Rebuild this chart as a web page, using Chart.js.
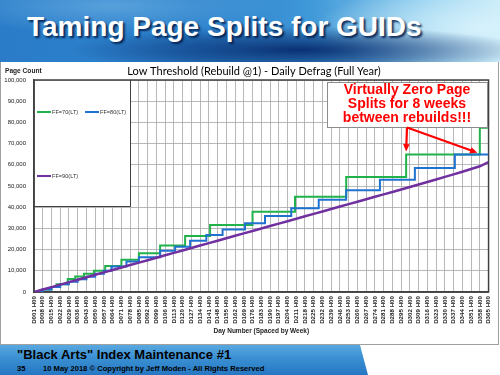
<!DOCTYPE html>
<html>
<head>
<meta charset="utf-8">
<title>Taming Page Splits for GUIDs</title>
<script src="https://cdn.jsdelivr.net/npm/chart.js@4.4.0/dist/chart.umd.min.js"></script>
<style>
    html, body { margin: 0; padding: 0; background: #fff; }
    body { width: 500px; height: 375px; position: relative; overflow: hidden; font-family: 'Liberation Sans', Arial, sans-serif; }
    .banner {
        position: absolute; left: 0; top: 0; width: 500px; height: 62px;
        background:
            radial-gradient(ellipse 230px 24px at 300px 50px, rgba(4,38,105,0.9) 0%, rgba(4,38,105,0.45) 55%, rgba(4,38,105,0) 100%),
            radial-gradient(ellipse 170px 45px at 485px 28px, rgba(215,242,252,0.95) 0%, rgba(215,242,252,0) 100%),
            radial-gradient(ellipse 170px 28px at 110px 6px, rgba(140,200,240,0.45) 0%, rgba(140,200,240,0) 100%),
            linear-gradient(90deg, #2a7cc8 0%, #2d82cc 40%, #3f98d8 62%, #8fcdee 85%, #c6e9f7 100%);
    }
    .banner h1 {
        position: absolute; left: 27px; top: 13px; margin: 0;
        font-size: 28px; line-height: 28px; font-weight: bold; color: #fff;
        text-shadow: 2px 2px 2px rgba(0, 25, 70, 0.85);
        white-space: nowrap;
    }
    .chart-box { position: absolute; left: 0; top: 62px; width: 500px; height: 283px; }
    .chart-box canvas { display: block; }
    .frame {
        position: absolute; left: 0; top: 62px; width: 497px; height: 282px;
        border: 1px solid #a0a0a0; border-top: none; pointer-events: none;
    }
    .footer {
        position: absolute; left: 0; top: 345px; width: 368px; height: 30px;
        background: linear-gradient(180deg, #58a8e0 0%, #3a8fd2 45%, #2577c2 100%);
        clip-path: polygon(0 0, 360px 0, 368px 30px, 0 30px);
    }
    .footer .line1 { position: absolute; left: 17px; top: 2px; font-size: 13px; font-weight: bold; color: #000; white-space: nowrap; }
    .footer .line2 { position: absolute; left: 17px; top: 19px; font-size: 7.6px; font-weight: bold; color: #000; white-space: nowrap; }
    .footer .line2 span { position: absolute; left: 26px; top: 0; }
</style>
</head>
<body>

<div class="banner"><h1>Taming Page Splits for GUIDs</h1></div>
<div class="chart-box"><canvas id="pageSplitChart" width="500" height="283"></canvas></div>
<div class="frame"></div>
<div class="footer">
    <div class="line1">"Black Arts" Index Maintenance #1</div>
    <div class="line2">35<span>10 May 2018 &copy; Copyright by Jeff Moden - All Rights Reserved</span></div>
</div>

<script>
// =====================================================
// Page count by day - FF=70 / FF=80 / FF=90, daily defrag
// =====================================================

// weekly ticks on the day axis
const tickDays = [1, 8, 15, 22, 29, 36, 43, 50, 57, 64, 71, 78, 85, 92, 99, 106, 113, 120,
    127, 134, 141, 148, 155, 162, 169, 176, 183, 190, 197, 204, 211, 218, 225, 232, 239, 246,
    253, 260, 267, 274, 281, 288, 295, 302, 309, 316, 323, 330, 337, 344, 351, 358, 365];
const tickLabels = ['D001 H00', 'D008 H00', 'D015 H00', 'D022 H00', 'D029 H00', 'D036 H00',
    'D043 H00', 'D050 H00', 'D057 H00', 'D064 H00', 'D071 H00', 'D078 H00', 'D085 H00',
    'D092 H00', 'D099 H00', 'D106 H00', 'D113 H00', 'D120 H00', 'D127 H00', 'D134 H00',
    'D141 H00', 'D148 H00', 'D155 H00', 'D162 H00', 'D169 H00', 'D176 H00', 'D183 H00',
    'D190 H00', 'D197 H00', 'D204 H00', 'D211 H00', 'D218 H00', 'D225 H00', 'D232 H00',
    'D239 H00', 'D246 H00', 'D253 H00', 'D260 H00', 'D267 H00', 'D274 H00', 'D281 H00',
    'D288 H00', 'D295 H00', 'D302 H00', 'D309 H00', 'D316 H00', 'D323 H00', 'D330 H00',
    'D337 H00', 'D344 H00', 'D351 H00', 'D358 H00', 'D365 H00'];

const yMax = 100000;
const yStep = 10000;

// FF=70 - day the page count jumps, and the count after the jump
const ff70Days  = [1, 8, 15, 19, 28, 34, 41, 49, 58, 71, 85, 102, 122, 142, 176, 210, 251, 299, 358, 365];
const ff70Pages = [0, 1200, 2400, 3700, 6100, 7300, 8600, 10000, 12300, 15200, 18300, 21900,
    26400, 31600, 37900, 44900, 54300, 64800, 77500, 77500];

// FF=80
const ff80Days  = [1, 8, 15, 22, 29, 36, 43, 50, 57, 63, 75, 85, 102, 114, 126, 139, 152, 170,
    186, 207, 229, 251, 278, 306, 338, 365];
const ff80Pages = [0, 1200, 2400, 3600, 4800, 6000, 7200, 8600, 10000, 12000, 14400, 16400,
    19500, 21400, 24200, 26900, 29500, 32400, 35800, 39500, 43500, 48000, 53000, 58500, 64800, 64800];

// FF=90 - read once a week (on tickDays)
const ff90Pages = [0, 1150, 2300, 3500, 4650, 5800, 6950, 8100, 9250, 10400, 11550, 12700,
    13850, 15000, 16150, 17300, 18450, 19600, 20750, 21900, 23050, 24200, 25350, 26500, 27650,
    28800, 29950, 31100, 32250, 33400, 34550, 35700, 36850, 38000, 39150, 40300, 41450, 42600,
    43750, 44900, 46050, 47200, 48350, 49500, 50700, 51900, 53100, 54300, 55500, 56750, 58000,
    59300, 61300];

const seriesNames = ['FF=70(LT)', 'FF=80(LT)', 'FF=90(LT)'];
const seriesColors = ['#22b24c', '#1f72cf', '#7030a0'];

const calloutLines = ['Virtually Zero Page', 'Splits for 8 weeks', 'between rebuilds!!!'];
const calloutTips = [{ day: 299, pages: 66300 }, { day: 356, pages: 65700 }];

function toPoints(days, pages) {
    return days.map((d, i) => ({ x: d, y: pages[i] }));
}

function drawArrow(ctx, x1, y1, x2, y2) {
    const ang = Math.atan2(y2 - y1, x2 - x1);
    const head = 8;
    ctx.beginPath();
    ctx.moveTo(x1, y1);
    ctx.lineTo(x2 - Math.cos(ang) * head * 0.8, y2 - Math.sin(ang) * head * 0.8);
    ctx.stroke();
    ctx.beginPath();
    ctx.moveTo(x2, y2);
    ctx.lineTo(x2 - head * Math.cos(ang - 0.42), y2 - head * Math.sin(ang - 0.42));
    ctx.lineTo(x2 - head * Math.cos(ang + 0.42), y2 - head * Math.sin(ang + 0.42));
    ctx.closePath();
    ctx.fill();
}

// plot frame, the in-plot legend box, title text and the red callout
const chartDecor = {
    id: 'chartDecor',
    beforeDatasetsDraw(chart) {
        const ctx = chart.ctx, a = chart.chartArea;
        ctx.save();
        ctx.strokeStyle = '#404040';
        ctx.lineWidth = 1.5;
        ctx.strokeRect(a.left, a.top, a.right - a.left, a.bottom - a.top);

        // legend box sits in the top-left corner of the plot
        const w = 96, h = 126;
        ctx.fillStyle = '#fff';
        ctx.fillRect(a.left + 1, a.top + 1, w - 1, h - 1);
        ctx.lineWidth = 1;
        ctx.beginPath();
        ctx.moveTo(a.left, a.top + h + 0.5);
        ctx.lineTo(a.left + w + 0.5, a.top + h + 0.5);
        ctx.lineTo(a.left + w + 0.5, a.top);
        ctx.stroke();

        const slots = [[3, 32], [51, 32], [3, 96]];
        ctx.font = '5.6px "Liberation Sans", Arial, sans-serif';
        ctx.textBaseline = 'middle';
        ctx.textAlign = 'left';
        chart.data.datasets.forEach((ds, i) => {
            const x = a.left + slots[i][0], y = a.top + slots[i][1];
            ctx.strokeStyle = ds.borderColor;
            ctx.lineWidth = 2;
            ctx.beginPath();
            ctx.moveTo(x, y);
            ctx.lineTo(x + 14, y);
            ctx.stroke();
            ctx.fillStyle = '#333';
            ctx.fillText(ds.label, x + 15, y);
        });
        ctx.restore();
    },
    afterDraw(chart) {
        const ctx = chart.ctx;
        ctx.save();
        ctx.fillStyle = '#000';
        ctx.textBaseline = 'middle';
        ctx.textAlign = 'center';
        ctx.font = '11px Lato, "Open Sans", sans-serif';
        ctx.fillText('Low Threshold (Rebuild @1) - Daily Defrag (Full Year)', 254, 9);
        ctx.textAlign = 'left';
        ctx.font = 'bold 6.6px "Liberation Sans", Arial, sans-serif';
        ctx.fillStyle = '#222';
        ctx.fillText('Page Count', 5, 9);

        // callout box
        const bx = 327, by = 20, bw = 160, bh = 45;
        ctx.fillStyle = '#fff';
        ctx.fillRect(bx, by, bw, bh);
        ctx.strokeStyle = '#8c8c8c';
        ctx.lineWidth = 1;
        ctx.strokeRect(bx + 0.5, by + 0.5, bw, bh);
        ctx.fillStyle = '#ff0000';
        ctx.textAlign = 'center';
        ctx.font = 'bold 14px "Liberation Sans", Arial, sans-serif';
        calloutLines.forEach((t, i) => ctx.fillText(t, bx + bw / 2, by + 8.5 + i * 14));

        const sx = 407, sy = by + bh + 0.5;
        ctx.strokeStyle = '#ff0000';
        ctx.lineWidth = 2.2;
        calloutTips.forEach(tip => {
            drawArrow(ctx, sx, sy, chart.scales.x.getPixelForValue(tip.day), chart.scales.y.getPixelForValue(tip.pages));
        });
        ctx.restore();
    }
};

const tickFont = { family: '"Liberation Sans", Arial, sans-serif', size: 6.2, weight: 'bold' };

new Chart(document.getElementById('pageSplitChart'), {
    type: 'line',
    data: {
        datasets: [
            {
                label: seriesNames[0],
                data: toPoints(ff70Days, ff70Pages),
                borderColor: seriesColors[0],
                borderWidth: 2,
                stepped: 'before',
                order: 3
            },
            {
                label: seriesNames[1],
                data: toPoints(ff80Days, ff80Pages),
                borderColor: seriesColors[1],
                borderWidth: 2,
                stepped: 'before',
                order: 2
            },
            {
                label: seriesNames[2],
                data: toPoints(tickDays, ff90Pages),
                borderColor: seriesColors[2],
                borderWidth: 2.5,
                order: 1
            }
        ]
    },
    options: {
        responsive: false,
        animation: false,
        devicePixelRatio: 1,
        layout: { padding: { left: 0, right: 10, top: 18, bottom: 0 } },
        elements: { point: { radius: 0 }, line: { tension: 0, fill: false } },
        plugins: {
            legend: { display: false },
            tooltip: { enabled: false },
            title: { display: false }
        },
        scales: {
            x: {
                type: 'linear',
                min: tickDays[0],
                max: tickDays[tickDays.length - 1],
                afterBuildTicks: scale => {
                    scale.ticks = tickDays.map(v => ({ value: v }));
                },
                afterFit: scale => { scale.height = 53; },
                grid: { color: '#a6a6a6', lineWidth: 0.8, drawTicks: false },
                border: { color: '#404040', width: 1.5 },
                ticks: {
                    autoSkip: false,
                    minRotation: 90,
                    maxRotation: 90,
                    padding: 4,
                    color: '#222',
                    font: tickFont,
                    callback: (value, index) => tickLabels[index]
                },
                title: {
                    display: true,
                    text: 'Day Number (Spaced by Week)',
                    color: '#222',
                    font: { family: '"Liberation Sans", Arial, sans-serif', size: 6.5, weight: 'bold' },
                    padding: { top: 0, bottom: 10 }
                }
            },
            y: {
                min: 0,
                max: yMax,
                afterFit: scale => { scale.width = 34; },
                grid: { color: '#a6a6a6', lineWidth: 0.8, drawTicks: false },
                border: { color: '#404040', width: 1.5 },
                ticks: {
                    stepSize: yStep,
                    padding: 8,
                    color: '#222',
                    font: { family: '"Liberation Sans", Arial, sans-serif', size: 6 },
                    callback: value => value.toLocaleString('en-US')
                }
            }
        }
    },
    plugins: [chartDecor]
});
</script>
</body>
</html>
